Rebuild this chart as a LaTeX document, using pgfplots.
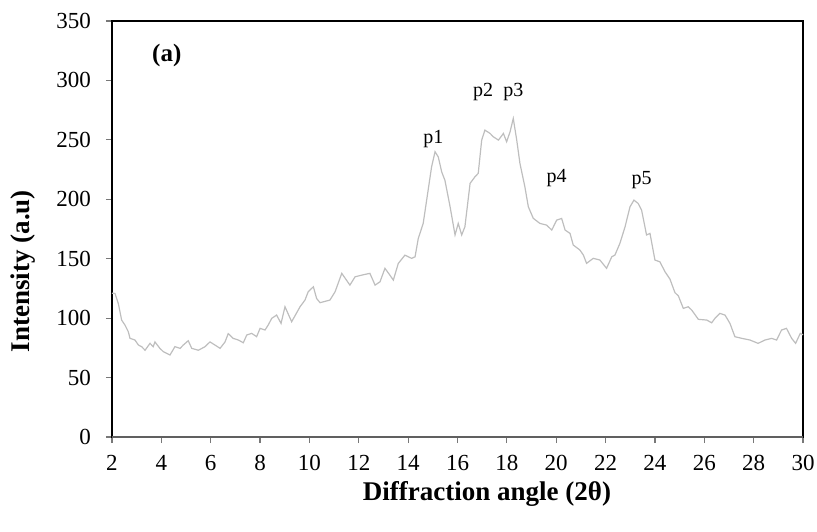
\documentclass[border=0pt]{standalone}
\usepackage{pgfplots}
\pgfplotsset{compat=1.18}
\usepackage{fontspec}
\setmainfont{Liberation Serif}
\definecolor{trace}{RGB}{190,190,190}
\definecolor{tickgray}{RGB}{120,120,120}

\begin{document}
\begin{tikzpicture}
\path[use as bounding box] (-56pt,-47pt) rectangle (352.5pt,218.5pt);
\begin{axis}[
  at={(0,0)}, anchor=south west,
  scale only axis,
  width=345.5pt, height=208pt,
  xmin=2, xmax=30, ymin=0, ymax=350,
  xtick={2,4,...,30},
  ytick={0,50,...,350},
  xtick pos=bottom, ytick pos=left,
  tick align=outside,
  major tick length=3pt,
  tick style={tickgray, line width=0.6pt},
  axis line style={black, line width=1pt},
  /pgf/number format/assume math mode=true,
  ticklabel style={font=\fontsize{11.5}{13}\selectfont},
  yticklabel style={xshift=-4pt},
  xticklabel style={yshift=-2.5pt},
  xlabel={\textbf{Diffraction angle (2θ)}},
  ylabel={\textbf{Intensity (a.u)}},
  label style={font=\fontsize{13.5}{15}\selectfont},
  xlabel style={at={(axis description cs:0.5427,-0.137)}, anchor=center},
  ylabel style={at={(axis description cs:-0.1288,0.399)}, anchor=center},
  clip=false,
]
% diffraction trace
\addplot[trace, line width=0.6pt] coordinates {
(2.00,121) (2.12,120.8) (2.26,112) (2.39,98.4) (2.53,94) (2.66,88.6)
(2.73,83) (2.93,81.6) (3.07,77.4) (3.20,76) (3.34,73) (3.54,78.8)
(3.67,76) (3.74,80) (3.94,74.6) (4.08,71.8) (4.35,69) (4.55,76)
(4.76,74.6) (4.89,77.4) (5.09,81) (5.23,74.6) (5.50,73) (5.77,76)
(5.97,80) (6.17,77.4) (6.38,74.6) (6.58,80) (6.71,87) (6.91,83)
(7.12,81.6) (7.32,79.3) (7.46,85.8) (7.66,87.2) (7.86,84.4) (8.00,91.4)
(8.20,90) (8.33,94.2) (8.47,99.8) (8.67,102.6) (8.85,95.6) (9.01,109.6)
(9.28,97) (9.62,109.6) (9.82,115.2) (9.95,122.2) (10.16,126.4) (10.29,116.6)
(10.43,113) (10.83,115.2) (11.04,122.2) (11.31,137.7) (11.64,127.8) (11.85,134.8)
(12.12,136.2) (12.45,137.7) (12.66,127.8) (12.86,130.6) (13.06,141.9) (13.26,136.2)
(13.40,132) (13.60,146) (13.87,153) (14.14,150.3) (14.28,151.6) (14.41,167)
(14.61,179.7) (14.75,199.3) (14.95,227.3) (15.09,240) (15.22,235.7) (15.36,223)
(15.49,216) (15.70,193.7) (15.90,170) (16.03,179.7) (16.17,170) (16.30,176.9)
(16.51,213.4) (16.71,219) (16.84,221.8) (16.98,249.8) (17.11,258.2) (17.32,255.4)
(17.45,252.6) (17.66,249.8) (17.86,255.4) (17.99,248.4) (18.13,256.8) (18.26,268)
(18.40,249.8) (18.53,230.2) (18.73,210.5) (18.87,193.7) (19.07,184) (19.34,179.7)
(19.61,178.3) (19.82,174.1) (20.02,182.5) (20.22,183.9) (20.36,174.1) (20.56,171.3)
(20.69,161.5) (20.96,157.3) (21.10,153.1) (21.23,146.1) (21.50,150.3) (21.77,148.9)
(22.04,141.9) (22.25,151.6) (22.38,153.1) (22.58,162.9) (22.79,176.9) (22.99,193.7)
(23.15,199.3) (23.32,196.5) (23.46,190.9) (23.66,170) (23.80,171.3) (24.00,148.9)
(24.20,147.4) (24.41,139) (24.61,132.8) (24.81,121.5) (24.95,118.7) (25.15,108.2)
(25.35,109.6) (25.49,106.8) (25.76,99) (26.10,98.4) (26.30,96.1) (26.43,99.8)
(26.63,104) (26.84,102.6) (27.04,95.6) (27.24,84.4) (27.52,83) (27.85,81.6)
(28.18,78.8) (28.46,81.6) (28.73,83) (28.93,81.6) (29.13,90) (29.33,91.4)
(29.54,83) (29.70,78.8) (29.89,87.2) (30.00,86)
};
% darker bottom axis line
\draw[tickgray!80!black, line width=0.8pt] (rel axis cs:0,0) -- (rel axis cs:1,0);
% panel tag and peak labels
\node[font=\fontsize{12.5}{14}\selectfont\bfseries] at (axis cs:4.22,321) {(a)};
\node[font=\fontsize{10}{11}\selectfont] at (axis cs:15.02,251) {p1};
\node[font=\fontsize{10}{11}\selectfont] at (axis cs:17.04,290) {p2};
\node[font=\fontsize{10}{11}\selectfont] at (axis cs:18.26,290) {p3};
\node[font=\fontsize{10}{11}\selectfont] at (axis cs:20.02,217.6) {p4};
\node[font=\fontsize{10}{11}\selectfont] at (axis cs:23.46,216) {p5};
\end{axis}
\end{tikzpicture}
\end{document}
